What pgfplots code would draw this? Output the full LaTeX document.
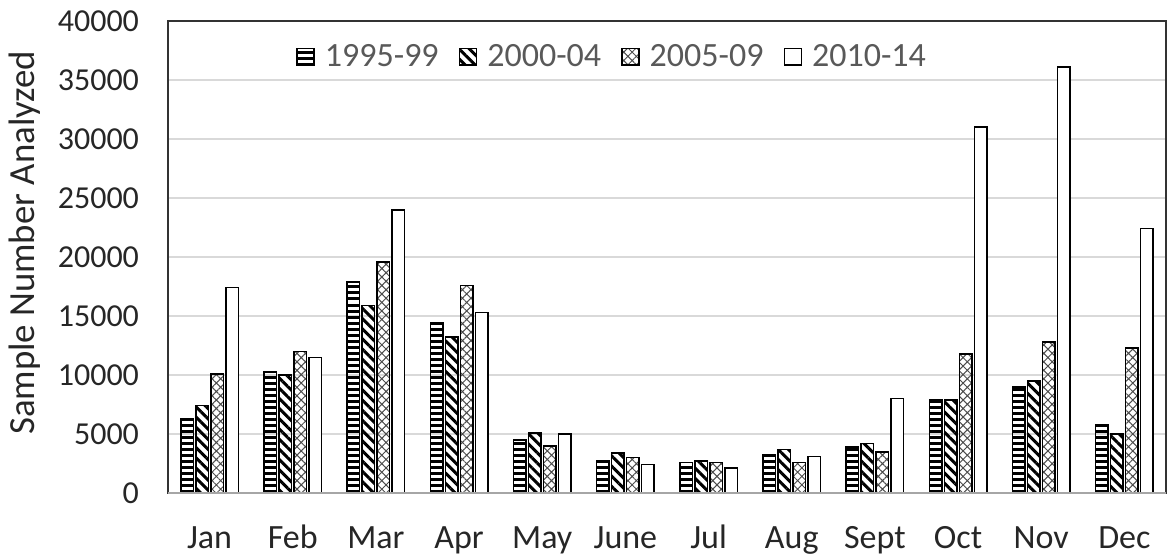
\documentclass[border=0pt]{standalone}
\usepackage{pgfplots}
\pgfplotsset{compat=1.18}
\usepackage{pgfplotstable}
\usepackage{fontspec}
\setmainfont{Carlito}
\usetikzlibrary{patterns.meta}
\definecolor{gridgray}{HTML}{D9D9D9}
\definecolor{leggray}{HTML}{595959}
\definecolor{axgray}{HTML}{A6A6A6}
\pgfplotstableread{
x a b c d
0 6300 7400 10100 17400
1 10300 10000 12000 11500
2 17900 15900 19600 24000
3 14400 13200 17600 15300
4 4500 5100 4000 5000
5 2700 3400 3000 2400
6 2600 2700 2600 2100
7 3200 3700 2600 3100
8 3900 4200 3500 8000
9 7900 7900 11800 31000
10 9000 9500 12800 36100
11 5800 5000 12300 22400
}\data
\begin{document}
\begin{tikzpicture}
\path[use as bounding box] (-84pt,-32pt) rectangle (501pt,246.5pt);
\begin{axis}[
  at={(0,0)}, anchor=south west,
  scale only axis, width=499pt, height=236pt,
  ybar=1.25pt, bar width=6.25pt,
  xmin=-0.5, xmax=11.5, ymin=0, ymax=40000,
  xtick=data,
  xticklabels={Jan,Feb,Mar,Apr,May,June,Jul,Aug,Sept,Oct,Nov,Dec},
  ytick={0,5000,...,40000},
  scaled y ticks=false,
  yticklabel style={/pgf/number format/1000 sep={}, xshift=-11pt, font=\fontsize{16}{19}\selectfont},
  xticklabel style={anchor=base, yshift=-27.5pt, font=\fontsize{17}{20}\selectfont},
  /pgf/number format/assume math mode=true,
  major tick length=0pt,
  tick label style={text=black!85},
  ymajorgrids, grid style={gridgray, line width=0.75pt},
  axis line style={black!80, line width=1.3pt},
  ylabel={Sample Number Analyzed},
  ylabel style={at={(axis description cs:-0.1433,0.53)}, anchor=center, font=\fontsize{18.4}{21}\selectfont, text=black!85},
  legend style={at={(0.446,0.924)}, anchor=center, draw=none, fill=none,
    legend columns=4, font=\fontsize{17}{20}\selectfont, text=leggray,
    /tikz/every odd column/.append style={column sep=3pt},
    /tikz/every even column/.append style={column sep=8pt}},
  legend image code/.code={\draw[#1, line width=0.8pt] (0pt,-4.2pt) rectangle (8.5pt,4.2pt);},
  every axis plot/.append style={draw=black, line width=0.8pt},
]
\addplot[pattern={Lines[angle=0, distance=3pt, line width=1.5pt]}] table[x=x,y=a]{\data};
\addplot[pattern={Lines[angle=-45, distance=3.6pt, line width=1.5pt]}] table[x=x,y=b]{\data};
\addplot[pattern={Hatch[angle=45, distance=3pt, line width=0.5pt]}, pattern color=black!70] table[x=x,y=c]{\data};
\addplot[fill=white] table[x=x,y=d]{\data};
\legend{1995-99,2000-04,2005-09,2010-14}
\draw[axgray, line width=1.5pt] (rel axis cs:0,0) -- (rel axis cs:1,0);
\end{axis}
\end{tikzpicture}
\end{document}
